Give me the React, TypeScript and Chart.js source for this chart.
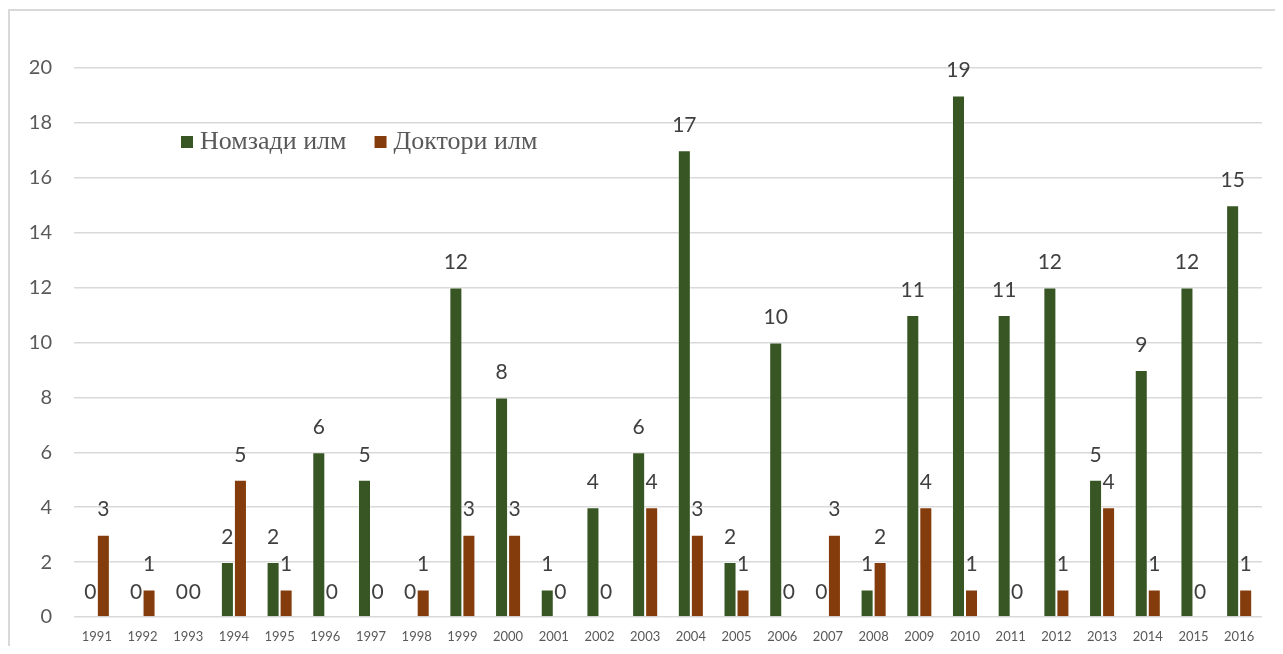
import React, { useEffect, useRef } from "react";
import { Chart, registerables } from "chart.js";

Chart.register(...registerables);

const years = ["1991","1992","1993","1994","1995","1996","1997","1998","1999","2000","2001","2002","2003","2004","2005","2006","2007","2008","2009","2010","2011","2012","2013","2014","2015","2016"];
const nomzadi = [0,0,0,2,2,6,5,0,12,8,1,4,6,17,2,10,0,1,11,19,11,12,5,9,12,15];
const doktori = [3,1,0,5,1,0,0,1,3,3,0,0,4,3,1,0,3,2,4,1,0,1,4,1,0,1];
const seriesNames = ["Номзади илм", "Доктори илм"];
const seriesColors = ["#375623", "#843C0C"];
const yTicks = { min: 0, max: 20, step: 2 };

const TICK_FONT = "Lato, 'Open Sans', sans-serif";

const dataLabels = {
  id: "dataLabels",
  afterDatasetsDraw(chart: any) {
    const ctx = chart.ctx;
    ctx.save();
    ctx.font = `21px ${TICK_FONT}`;
    ctx.fillStyle = "#404040";
    ctx.textAlign = "center";
    ctx.textBaseline = "middle";
    chart.data.datasets.forEach((ds: any, di: number) => {
      const meta = chart.getDatasetMeta(di);
      meta.data.forEach((el: any, i: number) => {
        ctx.fillText(String(ds.data[i]), el.x, el.y - 25);
      });
    });
    ctx.restore();
  },
};

const innerLegend = {
  id: "innerLegend",
  afterDraw(chart: any) {
    const ctx = chart.ctx;
    ctx.save();
    ctx.font = `26px 'Liberation Serif', 'DejaVu Serif', serif`;
    ctx.textBaseline = "middle";
    let x = 173;
    const y = 134;
    chart.data.datasets.forEach((ds: any) => {
      ctx.fillStyle = ds.backgroundColor;
      ctx.fillRect(x, y - 6, 12, 12);
      ctx.fillStyle = "#595959";
      ctx.fillText(ds.label, x + 19, y);
      x += 19 + ctx.measureText(ds.label).width + 28;
    });
    ctx.restore();
  },
};

export default function App() {
  const ref = useRef<HTMLCanvasElement>(null);
  useEffect(() => {
    if (!ref.current) return;
    const chart = new Chart(ref.current, {
      type: "bar",
      data: {
        labels: years,
        datasets: [
          { label: seriesNames[0], data: nomzadi, backgroundColor: seriesColors[0], borderColor: "rgba(255,255,255,0.35)", borderWidth: 1, categoryPercentage: 0.57, barPercentage: 1 },
          { label: seriesNames[1], data: doktori, backgroundColor: seriesColors[1], borderColor: "rgba(255,255,255,0.35)", borderWidth: 1, categoryPercentage: 0.57, barPercentage: 1 },
        ],
      },
      options: {
        animation: false,
        responsive: false,
        maintainAspectRatio: false,
        layout: { padding: { left: 0, top: 60, right: 13, bottom: 0 } },
        plugins: { legend: { display: false }, tooltip: { enabled: false } },
        scales: {
          x: {
            grid: { display: false, drawTicks: false },
            border: { display: false },
            ticks: { color: "#595959", font: { size: 13, family: TICK_FONT }, padding: 12, maxRotation: 0, autoSkip: false },
            afterFit: (s: any) => { s.height = 29; },
          },
          y: {
            min: yTicks.min,
            max: yTicks.max,
            ticks: { stepSize: yTicks.step, color: "#595959", font: { size: 20, family: TICK_FONT }, padding: 22 },
            grid: { color: "#d9d9d9", lineWidth: 1.5, drawTicks: false },
            border: { display: false },
            afterFit: (s: any) => { s.width = 66; s.paddingTop = 0; s.paddingBottom = 0; },
          },
        },
      },
      plugins: [dataLabels, innerLegend],
    });
    return () => chart.destroy();
  }, []);
  return (
    <div style={{ width: 1267, height: 638, position: "relative", boxSizing: "border-box" }}>
      <div style={{ position: "absolute", left: 0, top: 1, width: 1267, height: 637, borderLeft: "2px solid #d9d9d9", borderTop: "2px solid #d9d9d9", boxSizing: "border-box", pointerEvents: "none" }} />
      <canvas ref={ref} width={1267} height={638} style={{ display: "block" }} />
    </div>
  );
}
